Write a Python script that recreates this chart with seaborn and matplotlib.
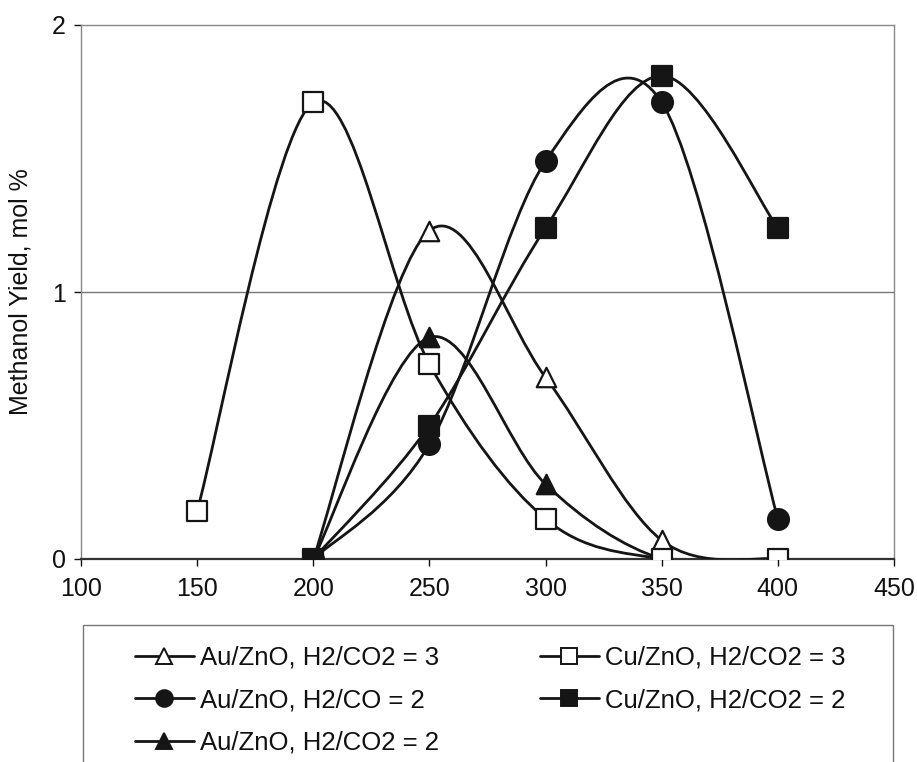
import numpy as np
import pandas as pd
import matplotlib
matplotlib.use("Agg")
import matplotlib.pyplot as plt
import seaborn as sns
from matplotlib.path import Path
from matplotlib.patches import PathPatch, Rectangle
from matplotlib.lines import Line2D

# temperatures (x axis)
temps = [150, 200, 250, 300, 350, 400]

# methanol yield, mol %  (None = not measured)
au_h2co2_3 = [None, 0.0, 1.23, 0.68, 0.07, 0.0]
cu_h2co2_3 = [0.18, 1.71, 0.73, 0.15, 0.0, 0.0]
au_h2co_2 = [None, 0.0, 0.43, 1.49, 1.71, 0.15]
cu_h2co2_2 = [None, 0.0, 0.50, 1.24, 1.81, 1.24]
au_h2co2_2 = [None, 0.0, 0.83, 0.28, 0.0, 0.0]

labels = ["Au/ZnO, H2/CO2 = 3", "Au/ZnO, H2/CO = 2", "Au/ZnO, H2/CO2 = 2",
          "Cu/ZnO, H2/CO2 = 3", "Cu/ZnO, H2/CO2 = 2"]
series = [au_h2co2_3, au_h2co_2, au_h2co2_2, cu_h2co2_3, cu_h2co2_2]
markers = ["^", "o", "^", "s", "s"]
filled = [False, True, True, False, True]
sizes = [14, 15, 14, 14, 14]

INK = "#151515"
TXT = "#111111"

sns.set_theme(style="white")
plt.rcParams["font.family"] = ["Liberation Sans", "DejaVu Sans"]


def smooth_path(xs, ys):
    # excel-style smoothed line: cubic bezier through the points
    pts = np.column_stack([xs, ys])
    n = len(pts)
    verts = [pts[0]]
    codes = [Path.MOVETO]
    for i in range(n - 1):
        p0 = pts[i - 1] if i > 0 else pts[i]
        p1 = pts[i]
        p2 = pts[i + 1]
        p3 = pts[i + 2] if i + 2 < n else pts[i + 1]
        c1 = p1 + (p2 - p0) / 6.0
        c2 = p2 - (p3 - p1) / 6.0
        verts += [c1, c2, p2]
        codes += [Path.CURVE4] * 3
    return Path(verts, codes)


fig = plt.figure(figsize=(9.17, 7.62), dpi=100)
ax = fig.add_axes([81 / 917, 1 - 559 / 762, (894 - 81) / 917, (559 - 25) / 762])

for lab, ys, mk, fl, ms in zip(labels, series, markers, filled, sizes):
    df = pd.DataFrame({"T": temps, "Y": ys}).dropna()
    ax.add_patch(PathPatch(smooth_path(df["T"].values, df["Y"].values.astype(float)),
                           facecolor="none", edgecolor=INK, lw=2.0, zorder=3))
    sns.scatterplot(data=df, x="T", y="Y", ax=ax, marker=mk, s=ms ** 2,
                    facecolor=INK if fl else "white", edgecolor=INK,
                    linewidth=1.6, zorder=4, legend=False)

ax.set_xlim(100, 450)
ax.set_ylim(0, 2)
ax.set_xticks(range(100, 451, 50))
ax.set_yticks([0, 1, 2])
ax.axhline(1, color="#777777", lw=1.0, zorder=1)
ax.set_xlabel("")
ax.set_ylabel("Methanol Yield, mol %", fontsize=18, color=TXT, labelpad=14)
ax.tick_params(axis="both", labelsize=18, colors=TXT, length=5, width=1,
               direction="out", bottom=True, left=True, pad=6)
ax.tick_params(axis="x", pad=8)
for side in ["top", "right", "left"]:
    ax.spines[side].set_color("#888888")
    ax.spines[side].set_linewidth(1.0)
ax.spines["bottom"].set_color("#333333")
ax.spines["bottom"].set_linewidth(1.6)

# legend box below the plot
fig.add_artist(Rectangle((83 / 917, -0.05), (893 - 83) / 917, 0.05 + 1 - 625 / 762,
                         transform=fig.transFigure, facecolor="white",
                         edgecolor="#777777", lw=1.0))
handles = [Line2D([], [], color=INK, lw=2.0, marker=mk, markersize=ms * 0.8,
                  markerfacecolor=INK if fl else "white", markeredgecolor=INK,
                  markeredgewidth=1.4)
           for mk, fl, ms in zip(markers, filled, sizes)]
fig.legend(handles, labels, loc="upper left", bbox_to_anchor=(122 / 917, 1 - 633 / 762),
           ncol=2, frameon=False, fontsize=18.5, handlelength=2.3, handletextpad=0.25,
           columnspacing=3.9, labelspacing=0.72, borderpad=0,
           labelcolor=TXT)

fig.savefig("out.png", dpi=100)
